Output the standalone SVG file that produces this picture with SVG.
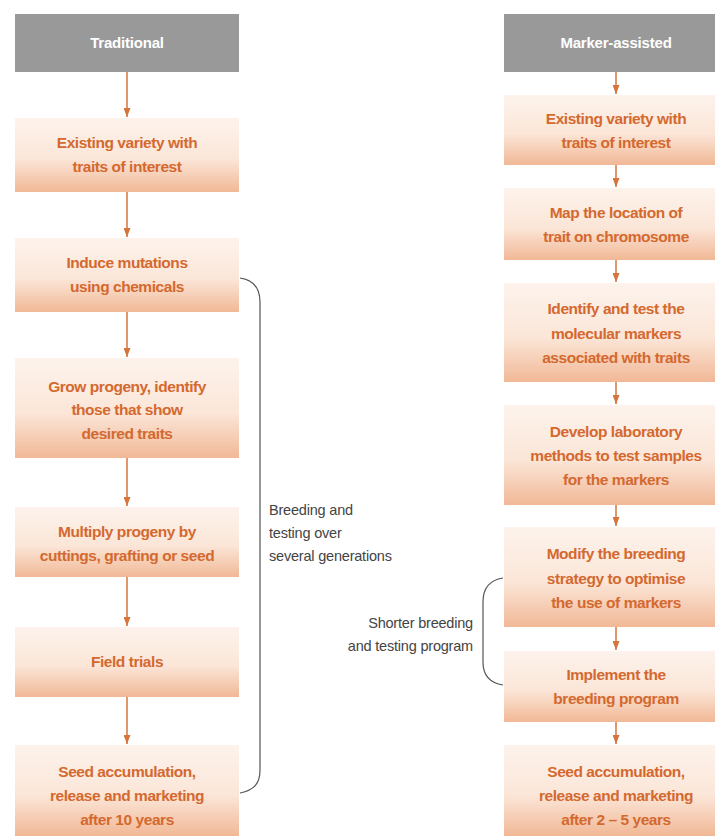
<svg xmlns="http://www.w3.org/2000/svg" width="715" height="839" viewBox="0 0 715 839">
<defs>
<linearGradient id="boxg" x1="0" y1="0" x2="0" y2="1">
<stop offset="0" stop-color="#fdf3ec"/>
<stop offset="0.55" stop-color="#fbe6d8"/>
<stop offset="1" stop-color="#f1b896"/>
</linearGradient>
<marker id="ah" markerUnits="userSpaceOnUse" markerWidth="10" markerHeight="7" refX="9" refY="3.5" orient="auto">
<path d="M0,0 L9,3.5 L0,7 Z" fill="#d6743b"/>
</marker>
<style>
.hdr{fill:#999999}
.box{fill:url(#boxg)}
.ht{font-family:"Liberation Sans",Arial,sans-serif;font-weight:bold;font-size:15px;fill:#ffffff;text-anchor:middle;letter-spacing:-0.2px}
.bt{font-family:"Liberation Sans",Arial,sans-serif;font-weight:bold;font-size:15.5px;fill:#d4692f;text-anchor:middle;letter-spacing:-0.45px}
.conn{stroke:#d6743b;stroke-width:1.5;fill:none;marker-end:url(#ah)}
.br{stroke:#555555;stroke-width:1.2;fill:none}
.lt{font-family:"Liberation Sans",Arial,sans-serif;font-size:14.5px;fill:#444444;letter-spacing:-0.2px}
</style>
</defs>
<rect width="715" height="839" fill="#ffffff"/>

<g id="connectors">
<line class="conn" x1="127" y1="72" x2="127" y2="117"/>
<line class="conn" x1="127" y1="192" x2="127" y2="237"/>
<line class="conn" x1="127" y1="312" x2="127" y2="357"/>
<line class="conn" x1="127" y1="458" x2="127" y2="506"/>
<line class="conn" x1="127" y1="577" x2="127" y2="626"/>
<line class="conn" x1="127" y1="697" x2="127" y2="744"/>
<line class="conn" x1="616" y1="72" x2="616" y2="94"/>
<line class="conn" x1="616" y1="165" x2="616" y2="187"/>
<line class="conn" x1="616" y1="260" x2="616" y2="282"/>
<line class="conn" x1="616" y1="382" x2="616" y2="404"/>
<line class="conn" x1="616" y1="505" x2="616" y2="526"/>
<line class="conn" x1="616" y1="627" x2="616" y2="650"/>
<line class="conn" x1="616" y1="722" x2="616" y2="744"/>
</g>

<g id="bracket-left">
<path class="br" d="M240,278 C254,280 260,288 260,302 L260,770 C260,784 254,790 240,793"/>
<text class="lt" x="269" y="515">Breeding and</text>
<text class="lt" x="269" y="538">testing over</text>
<text class="lt" x="269" y="561">several generations</text>
</g>

<g id="bracket-right">
<path class="br" d="M503,578 C490,580 483,588 483,602 L483,662 C483,676 490,683 503,685"/>
<text class="lt" x="473" y="628" text-anchor="end">Shorter breeding</text>
<text class="lt" x="473" y="651" text-anchor="end">and testing program</text>
</g>

<g id="trad-header"><rect class="hdr" x="15" y="14" width="224" height="58"/><text class="ht" x="127" y="48">Traditional</text></g>
<g id="trad-1"><rect class="box" x="15" y="118" width="224" height="74"/><text class="bt" x="127" y="148">Existing variety with</text><text class="bt" x="127" y="172">traits of interest</text></g>
<g id="trad-2"><rect class="box" x="15" y="238" width="224" height="74"/><text class="bt" x="127" y="268">Induce mutations</text><text class="bt" x="127" y="292">using chemicals</text></g>
<g id="trad-3"><rect class="box" x="15" y="358" width="224" height="100"/><text class="bt" x="127" y="392">Grow progeny, identify</text><text class="bt" x="127" y="415">those that show</text><text class="bt" x="127" y="439">desired traits</text></g>
<g id="trad-4"><rect class="box" x="15" y="507" width="224" height="70"/><text class="bt" x="127" y="537">Multiply progeny by</text><text class="bt" x="127" y="561">cuttings, grafting or seed</text></g>
<g id="trad-5"><rect class="box" x="15" y="627" width="224" height="70"/><text class="bt" x="127" y="667">Field trials</text></g>
<g id="trad-6"><rect class="box" x="15" y="745" width="224" height="91"/><text class="bt" x="127" y="777">Seed accumulation,</text><text class="bt" x="127" y="801">release and marketing</text><text class="bt" x="127" y="825">after 10 years</text></g>

<g id="ma-header"><rect class="hdr" x="504" y="14" width="224" height="58"/><text class="ht" x="616" y="48">Marker-assisted</text></g>
<g id="ma-1"><rect class="box" x="504" y="95" width="224" height="70"/><text class="bt" x="616" y="124">Existing variety with</text><text class="bt" x="616" y="148">traits of interest</text></g>
<g id="ma-2"><rect class="box" x="504" y="188" width="224" height="72"/><text class="bt" x="616" y="218">Map the location of</text><text class="bt" x="616" y="242">trait on chromosome</text></g>
<g id="ma-3"><rect class="box" x="504" y="283" width="224" height="99"/><text class="bt" x="616" y="314">Identify and test the</text><text class="bt" x="616" y="339">molecular markers</text><text class="bt" x="616" y="363">associated with traits</text></g>
<g id="ma-4"><rect class="box" x="504" y="405" width="224" height="100"/><text class="bt" x="616" y="437">Develop laboratory</text><text class="bt" x="616" y="461">methods to test samples</text><text class="bt" x="616" y="485">for the markers</text></g>
<g id="ma-5"><rect class="box" x="504" y="527" width="224" height="100"/><text class="bt" x="616" y="559">Modify the breeding</text><text class="bt" x="616" y="584">strategy to optimise</text><text class="bt" x="616" y="608">the use of markers</text></g>
<g id="ma-6"><rect class="box" x="504" y="651" width="224" height="71"/><text class="bt" x="616" y="680">Implement the</text><text class="bt" x="616" y="704">breeding program</text></g>
<g id="ma-7"><rect class="box" x="504" y="745" width="224" height="91"/><text class="bt" x="616" y="777">Seed accumulation,</text><text class="bt" x="616" y="801">release and marketing</text><text class="bt" x="616" y="825">after 2 – 5 years</text></g>
</svg>
